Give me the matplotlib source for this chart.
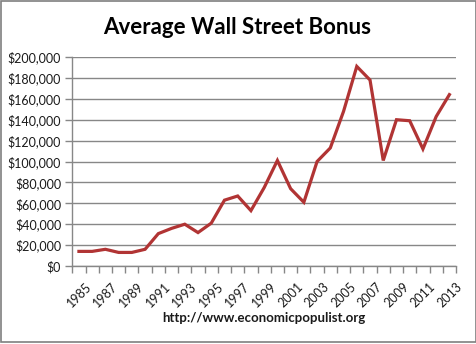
import matplotlib
matplotlib.use("Agg")
import matplotlib.pyplot as plt
import matplotlib.transforms as mtransforms
from matplotlib.patches import Rectangle
from matplotlib.ticker import FuncFormatter

# average bonus paid on Wall Street, by year
years = list(range(1985, 2014))
bonus = [14000, 14000, 16000, 13000, 13000, 16000, 31000, 36000, 40000, 32000,
         41000, 63000, 67000, 53000, 75000, 101000, 74000, 61000, 100000, 113000,
         148000, 191000, 178000, 101000, 140000, 139000, 112000, 143000, 164000]

LINE_RED = "#B13434"
GRID_GRAY = "#878787"
FONT = ["Lato", "DejaVu Sans"]

fig = plt.figure(figsize=(4.77, 3.44), dpi=100)
fig.patch.set_facecolor("white")

# chart border
fig.patches.append(Rectangle((0.003, 0.006), 0.994, 0.99, transform=fig.transFigure,
                             fill=False, edgecolor="#7f7f7f", linewidth=1.2))

ax = fig.add_axes([0.1516, 0.2267, 0.8044, 0.6076])
x = list(range(len(years)))
ax.plot(x, bonus, color=LINE_RED, linewidth=2.3, solid_joinstyle="miter")

ax.set_xlim(-0.5, len(years) - 0.5)
ax.set_ylim(0, 200000)
ax.set_yticks(range(0, 200001, 20000))
ax.yaxis.set_major_formatter(FuncFormatter(lambda v, p: f"${int(v):,}"))
ax.grid(axis="y", color=GRID_GRAY, linewidth=1.0)
ax.set_axisbelow(True)

# labels on every other year, tick marks between categories
ax.set_xticks(x[::2])
ax.set_xticklabels([str(y) for y in years[::2]], rotation=45, ha="right",
                   rotation_mode="anchor")
ax.set_xticks([i - 0.5 for i in range(len(years) + 1)], minor=True)
ax.tick_params(axis="x", which="major", length=0, pad=8)
ax.tick_params(axis="x", which="minor", length=5, color=GRID_GRAY, width=1)
ax.tick_params(axis="y", length=5, color=GRID_GRAY, width=1, pad=3)

# nudge the slanted year labels right and slightly down
shift = mtransforms.ScaledTranslation(6 / 100, -3 / 100, fig.dpi_scale_trans)
for lab in ax.get_xticklabels():
    lab.set_transform(lab.get_transform() + shift)

for lab in ax.get_xticklabels() + ax.get_yticklabels():
    lab.set_fontfamily(FONT)
    lab.set_fontsize(9)
    lab.set_color("#1a1a1a")

for side in ("top", "right"):
    ax.spines[side].set_visible(False)
for side in ("left", "bottom"):
    ax.spines[side].set_color(GRID_GRAY)
    ax.spines[side].set_linewidth(1.0)

fig.text(0.497, 0.92, "Average Wall Street Bonus", ha="center", va="center",
         fontsize=16, fontweight="bold", family=FONT)
fig.text(0.553, 0.075, "http://www.economicpopulist.org", ha="center", va="center",
         fontsize=9.5, fontweight="bold", family=FONT, color="#1a1a1a")

fig.savefig("out.png", dpi=100)
